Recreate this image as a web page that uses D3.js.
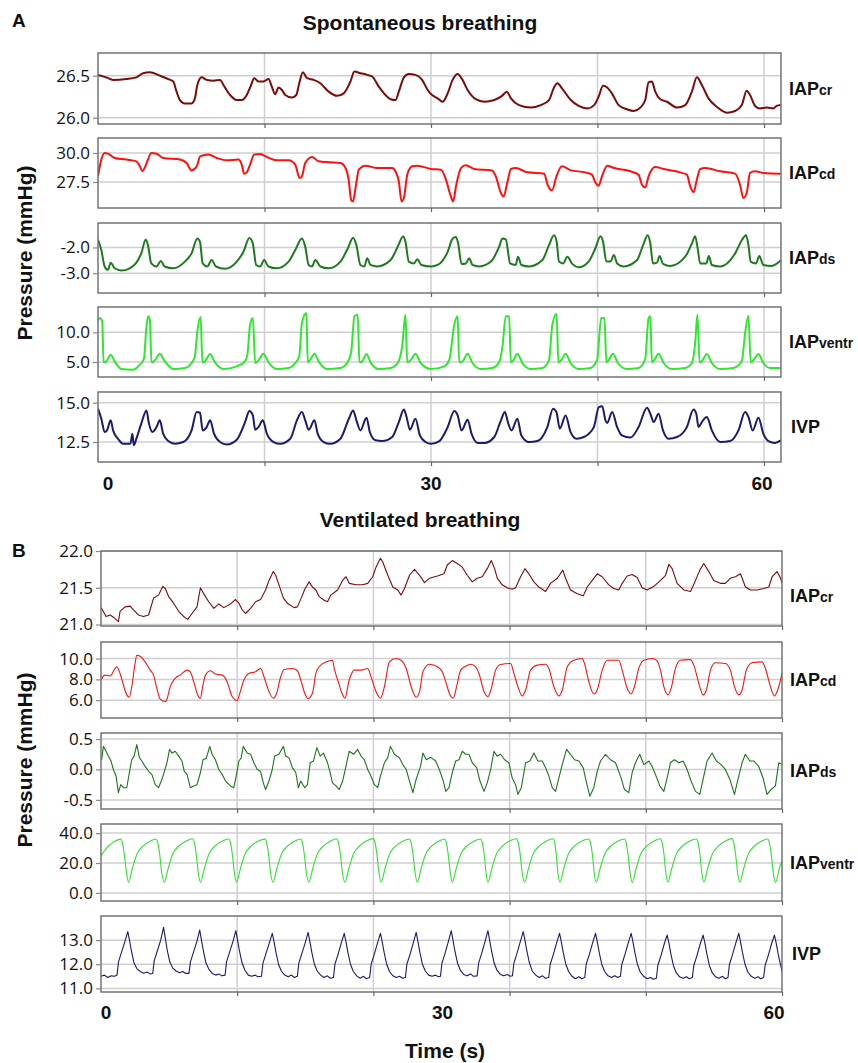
<!DOCTYPE html>
<html><head><meta charset="utf-8">
<script src="https://cdn.jsdelivr.net/npm/d3@7"></script>
<style>body{margin:0;background:#fff;}</style>
</head><body>
<script>
// ---------------- DATA (time s, pressure mmHg) ----------------
const xLabels = [0, 30, 60];

// A: Spontaneous breathing
const aCr = [[0,26.51],[0.75,26.48],[1.36,26.45],[2.56,26.46],[3.46,26.48],[4.07,26.53],[4.67,26.54],[5.57,26.50],[6.33,26.46],[6.78,26.43],[7.08,26.31],[7.38,26.21],[7.83,26.17],[8.43,26.17],[8.73,26.23],[8.95,26.39],[9.34,26.48],[9.79,26.45],[10.4,26.44],[11.0,26.45],[11.3,26.39],[11.9,26.27],[12.5,26.21],[12.95,26.21],[13.4,26.27],[13.77,26.38],[14.07,26.47],[14.46,26.43],[14.9,26.43],[15.36,26.46],[15.66,26.37],[15.96,26.28],[16.27,26.36],[16.57,26.33],[16.87,26.27],[17.47,26.24],[17.86,26.27],[18.13,26.41],[18.46,26.54],[18.83,26.47],[19.43,26.45],[20.03,26.41],[20.78,26.31],[21.54,26.26],[22.14,26.29],[22.74,26.43],[23.1,26.55],[23.64,26.53],[24.25,26.51],[24.7,26.49],[25.3,26.37],[25.9,26.27],[26.36,26.22],[26.8,26.21],[27.1,26.31],[27.56,26.48],[28.0,26.52],[28.6,26.51],[29.2,26.45],[29.7,26.33],[30.0,26.28],[30.6,26.23],[31.05,26.19],[31.5,26.29],[31.95,26.45],[32.4,26.52],[32.84,26.45],[33.3,26.33],[34.04,26.22],[34.8,26.19],[35.7,26.21],[36.4,26.26],[36.83,26.31],[37.2,26.23],[37.93,26.15],[39.0,26.12],[39.88,26.15],[40.63,26.21],[41.08,26.36],[41.4,26.41],[41.8,26.35],[42.6,26.21],[43.3,26.14],[44.1,26.11],[44.7,26.15],[45.1,26.25],[45.5,26.38],[45.87,26.36],[46.3,26.29],[46.9,26.15],[47.66,26.10],[48.26,26.08],[48.86,26.12],[49.3,26.21],[49.6,26.42],[49.9,26.43],[50.2,26.31],[50.66,26.22],[51.26,26.19],[52.16,26.12],[52.9,26.15],[53.5,26.31],[53.95,26.48],[54.4,26.39],[55.0,26.23],[55.75,26.13],[56.65,26.06],[57.4,26.08],[58.0,26.15],[58.44,26.32],[58.74,26.27],[59.2,26.14],[59.64,26.11],[60.24,26.12],[60.84,26.11],[61.14,26.14],[61.5,26.15]];

const aCd = [[0,28.0],[0.3,29.43],[0.6,30.0],[0.9,29.94],[1.5,29.57],[2.56,29.43],[3.46,29.28],[3.77,28.85],[4.0,28.42],[4.2,28.7],[4.5,29.43],[4.8,30.0],[5.27,29.94],[5.87,29.57],[7.38,29.43],[7.98,29.14],[8.43,28.5],[8.9,28.85],[9.2,29.71],[9.94,29.86],[10.7,29.57],[11.6,29.37],[12.65,29.43],[12.95,28.99],[13.16,28.22],[13.4,28.33],[13.7,28.99],[14.07,29.86],[14.6,29.91],[15.2,29.66],[16.1,29.37],[17.17,29.37],[17.77,28.99],[18.16,27.84],[18.37,27.99],[18.67,29.14],[19.28,29.66],[19.88,29.28],[20.78,29.2],[21.84,29.14],[22.3,28.7],[22.6,27.56],[22.8,25.98],[22.98,25.83],[23.2,26.98],[23.5,28.56],[24.1,28.91],[25.15,28.7],[26.5,28.7],[26.8,28.42],[27.1,27.56],[27.35,25.83],[27.56,26.12],[27.86,28.13],[28.3,28.85],[28.77,28.91],[30.0,28.62],[30.9,28.56],[31.35,27.7],[31.74,26.41],[32.0,25.83],[32.25,27.13],[32.7,28.7],[33.14,28.94],[33.9,28.62],[35.5,28.5],[35.84,27.99],[36.3,26.55],[36.53,26.26],[36.9,27.56],[37.2,28.62],[37.63,28.7],[38.7,28.33],[40.2,28.22],[40.5,27.27],[40.9,26.78],[41.3,27.99],[41.8,28.85],[42.6,28.5],[43.9,28.33],[44.5,28.13],[44.8,27.47],[45.1,27.18],[45.4,27.99],[45.87,28.91],[46.5,28.7],[47.96,28.42],[48.7,28.13],[49.0,27.27],[49.3,27.04],[49.6,27.99],[50.2,28.79],[50.96,28.62],[52.45,28.33],[53.05,28.13],[53.35,27.13],[53.65,26.61],[53.95,27.7],[54.25,28.62],[54.7,28.7],[56.05,28.42],[57.4,28.22],[57.84,27.27],[58.14,26.12],[58.44,26.55],[58.74,28.28],[59.2,28.42],[59.94,28.28],[61.5,28.22]];

const aDs = [[0,-1.7],[0.3,-2.1],[0.6,-2.74],[0.9,-2.87],[1.14,-2.59],[1.5,-2.81],[2.1,-2.9],[2.86,-2.81],[3.46,-2.59],[3.9,-2.23],[4.3,-1.69],[4.5,-1.91],[4.8,-2.62],[5.27,-2.74],[5.66,-2.53],[6.0,-2.74],[6.78,-2.81],[7.83,-2.55],[8.43,-2.23],[8.95,-1.65],[9.19,-1.78],[9.43,-2.62],[9.85,-2.74],[10.24,-2.49],[10.63,-2.74],[11.45,-2.83],[12.5,-2.55],[13.1,-2.17],[13.64,-1.63],[13.95,-1.85],[14.25,-2.68],[14.6,-2.74],[14.97,-2.49],[15.36,-2.74],[16.1,-2.81],[17.17,-2.55],[17.77,-2.1],[18.37,-1.65],[18.67,-1.97],[18.98,-2.68],[19.28,-2.74],[19.58,-2.49],[20.03,-2.74],[20.78,-2.81],[21.84,-2.55],[22.5,-2.04],[22.98,-1.62],[23.28,-1.91],[23.64,-2.68],[24.0,-2.74],[24.25,-2.42],[24.55,-2.68],[25.15,-2.74],[26.36,-2.49],[27.0,-1.97],[27.5,-1.56],[27.7,-1.78],[28.0,-2.55],[28.46,-2.62],[28.77,-2.46],[29.13,-2.68],[30.0,-2.74],[30.6,-2.68],[31.5,-2.17],[31.95,-1.65],[32.25,-1.59],[32.45,-1.85],[32.75,-2.64],[33.14,-2.62],[33.44,-2.42],[33.74,-2.68],[34.34,-2.74],[35.4,-2.55],[36.14,-1.97],[36.44,-1.65],[36.74,-1.69],[37.13,-2.62],[37.63,-2.68],[37.84,-2.36],[38.14,-2.68],[38.83,-2.74],[40.03,-2.49],[40.63,-1.91],[41.08,-1.53],[41.32,-1.78],[41.53,-2.55],[41.9,-2.62],[42.28,-2.36],[42.72,-2.64],[43.3,-2.77],[44.2,-2.55],[44.8,-2.04],[45.27,-1.56],[45.5,-1.78],[45.8,-2.55],[46.17,-2.55],[46.47,-2.29],[46.77,-2.62],[47.37,-2.74],[48.56,-2.49],[49.16,-1.85],[49.52,-1.53],[49.76,-1.85],[50.0,-2.62],[50.36,-2.59],[50.6,-2.33],[50.9,-2.64],[51.56,-2.72],[52.9,-2.36],[53.5,-1.85],[53.8,-1.56],[54.0,-1.97],[54.25,-2.62],[54.8,-2.62],[55.03,-2.33],[55.3,-2.68],[56.05,-2.74],[57.4,-2.23],[58.0,-1.72],[58.38,-1.53],[58.6,-1.91],[58.8,-2.55],[59.28,-2.62],[59.58,-2.33],[59.94,-2.68],[60.7,-2.72],[61.5,-2.51]];

const aVentr = [[0,12.0],[0.2,12.4],[0.38,11.85],[0.5,4.94],[0.75,5.11],[1.14,6.24],[1.5,5.11],[2.1,3.82],[3.16,3.71],[3.77,4.55],[4.13,5.51],[4.37,11.0],[4.52,12.7],[4.67,12.1],[4.82,4.94],[5.12,5.28],[5.57,6.4],[6.02,5.11],[6.78,3.82],[7.83,3.99],[8.43,4.83],[8.73,5.96],[8.95,10.17],[9.25,12.58],[9.4,4.94],[9.64,5.11],[10.1,6.35],[10.54,4.94],[11.3,3.82],[12.5,4.27],[13.25,5.11],[13.46,6.24],[13.7,11.29],[13.95,12.4],[14.16,4.83],[14.46,5.28],[14.9,6.4],[15.36,4.94],[16.1,3.82],[17.17,3.99],[17.77,4.83],[18.13,5.96],[18.37,11.57],[18.77,13.26],[18.9,4.94],[19.13,5.39],[19.5,6.4],[19.88,5.11],[20.63,3.82],[21.84,3.99],[22.44,4.83],[22.8,6.52],[23.1,12.7],[23.4,12.98],[23.55,4.94],[23.8,5.11],[24.2,6.35],[24.55,4.94],[25.3,3.82],[26.36,3.99],[27.0,4.83],[27.4,7.64],[27.7,12.98],[27.86,4.94],[28.16,5.28],[28.6,6.4],[29.07,4.83],[30.0,3.82],[31.2,4.27],[31.65,5.39],[32.1,11.29],[32.4,12.7],[32.54,4.94],[32.84,5.11],[33.3,6.4],[33.74,4.83],[34.5,3.82],[35.54,3.99],[36.14,4.94],[36.44,7.64],[36.74,12.7],[37.04,12.7],[37.19,4.94],[37.43,5.28],[37.78,6.4],[38.23,4.83],[38.98,3.82],[40.03,3.99],[40.63,5.28],[40.93,11.29],[41.32,13.15],[41.47,4.94],[41.77,5.39],[42.13,6.4],[42.57,4.83],[43.32,3.82],[44.37,3.99],[44.97,5.39],[45.33,12.4],[45.63,12.4],[45.8,4.94],[46.0,5.28],[46.4,6.4],[46.83,4.83],[47.66,3.82],[48.7,3.99],[49.3,5.51],[49.6,12.4],[49.76,12.7],[49.9,4.94],[50.1,5.28],[50.5,6.4],[50.96,4.83],[51.7,3.82],[52.9,3.99],[53.5,4.83],[53.8,8.2],[54.0,12.98],[54.2,4.94],[54.4,5.11],[54.85,6.35],[55.3,4.83],[56.05,3.82],[57.25,3.99],[58.0,5.11],[58.3,9.89],[58.6,12.8],[58.8,4.94],[59.04,5.28],[59.5,6.35],[59.94,4.83],[60.54,3.99],[61.5,3.99]];

const aIvp = [[0,14.62],[0.3,13.98],[0.6,13.14],[0.81,13.24],[1.14,13.88],[1.36,13.24],[1.8,12.71],[2.26,12.39],[2.92,12.39],[3.1,13.03],[3.22,12.29],[3.46,12.71],[3.9,13.67],[4.37,14.51],[4.58,13.71],[4.91,13.14],[5.27,13.45],[5.57,13.88],[5.87,13.03],[6.33,12.56],[6.93,12.39],[7.68,12.5],[8.43,13.24],[8.89,14.41],[9.19,14.36],[9.43,13.24],[9.79,13.45],[10.1,13.88],[10.45,13.03],[11.0,12.5],[11.6,12.35],[12.5,12.65],[13.25,13.77],[13.64,14.47],[13.95,14.19],[14.16,13.28],[14.46,13.45],[14.85,13.88],[15.21,13.03],[15.81,12.5],[16.42,12.39],[17.32,12.71],[17.92,13.88],[18.37,14.41],[18.67,13.88],[18.98,13.28],[19.5,13.88],[19.79,13.03],[20.33,12.5],[20.93,12.39],[21.84,12.71],[22.6,13.98],[22.98,14.51],[23.28,13.88],[23.64,13.24],[24.19,14.05],[24.49,13.14],[25.0,12.61],[25.6,12.56],[26.5,12.82],[27.1,13.77],[27.56,14.56],[27.8,14.09],[28.1,13.28],[28.6,13.98],[29.0,12.92],[29.5,12.5],[30.0,12.39],[30.75,12.56],[31.5,13.45],[32.1,14.47],[32.4,14.19],[32.75,13.24],[33.3,13.92],[33.65,13.03],[34.2,12.44],[34.8,12.44],[35.7,12.82],[36.3,13.88],[36.65,14.41],[36.95,13.71],[37.25,13.24],[37.78,13.98],[38.14,12.92],[38.83,12.5],[39.58,12.56],[40.48,13.45],[41.0,14.62],[41.3,14.41],[41.6,13.35],[42.13,14.19],[42.57,13.14],[43.1,12.71],[43.77,12.82],[44.67,13.45],[45.12,14.72],[45.42,14.77],[45.72,13.88],[45.87,13.71],[46.32,14.41],[46.77,13.45],[47.2,12.92],[47.96,12.78],[48.7,13.45],[49.46,14.68],[49.76,14.3],[50.06,13.77],[50.5,14.3],[50.9,13.24],[51.4,12.71],[52.16,12.82],[53.05,13.45],[53.65,14.56],[53.9,14.3],[54.1,13.45],[54.4,13.77],[54.85,14.09],[55.3,13.24],[56.05,12.5],[56.95,12.56],[57.7,13.24],[58.3,14.41],[58.6,14.09],[58.98,13.24],[59.5,14.05],[59.94,13.03],[60.4,12.56],[61.0,12.44],[61.5,12.61]];

// B: Ventilated breathing
const bCr = [[0,21.23],[0.2,21.18],[0.44,21.11],[0.8,21.13],[1.1,21.1],[1.39,21.06],[1.53,21.04],[1.68,21.18],[2.12,21.24],[2.56,21.25],[2.86,21.2],[3.3,21.13],[3.74,21.11],[4.19,21.13],[4.63,21.36],[5.07,21.4],[5.45,21.52],[5.66,21.49],[5.96,21.38],[6.4,21.29],[6.84,21.18],[7.28,21.11],[7.64,21.07],[8.02,21.15],[8.46,21.24],[8.76,21.5],[9.05,21.42],[9.49,21.31],[9.94,21.22],[10.38,21.28],[10.82,21.23],[11.41,21.28],[11.85,21.34],[12.15,21.29],[12.44,21.2],[12.74,21.15],[13.18,21.22],[13.62,21.31],[14.06,21.34],[14.5,21.47],[14.8,21.6],[15.18,21.72],[15.39,21.67],[15.68,21.54],[16.07,21.36],[16.42,21.29],[17.01,21.23],[17.3,21.24],[17.75,21.4],[17.95,21.48],[18.34,21.58],[18.63,21.51],[18.93,21.47],[19.22,21.38],[19.66,21.33],[19.96,21.31],[20.25,21.4],[20.84,21.47],[21.29,21.6],[21.58,21.65],[21.87,21.56],[22.46,21.54],[23.05,21.54],[23.5,21.56],[23.94,21.65],[24.23,21.78],[24.62,21.9],[24.82,21.85],[25.27,21.67],[25.71,21.51],[26.15,21.47],[26.44,21.4],[26.74,21.49],[27.18,21.67],[27.62,21.75],[28.07,21.67],[28.5,21.57],[28.95,21.63],[29.64,21.66],[30.22,21.69],[30.51,21.81],[30.95,21.87],[31.39,21.83],[31.83,21.78],[32.27,21.67],[32.71,21.58],[33.15,21.63],[33.59,21.65],[34.03,21.76],[34.39,21.87],[34.68,21.76],[34.91,21.63],[35.35,21.54],[35.79,21.5],[36.23,21.48],[36.53,21.5],[36.97,21.65],[37.35,21.76],[37.7,21.69],[38.14,21.58],[38.58,21.51],[39.17,21.45],[39.61,21.56],[40.2,21.63],[40.69,21.74],[40.93,21.63],[41.37,21.47],[41.96,21.42],[42.49,21.39],[42.84,21.51],[43.28,21.6],[43.72,21.69],[44.16,21.65],[44.74,21.54],[45.18,21.49],[45.62,21.47],[45.92,21.56],[46.36,21.66],[46.8,21.68],[47.24,21.64],[47.68,21.5],[48.12,21.47],[48.71,21.52],[49.3,21.6],[49.74,21.67],[50.03,21.82],[50.32,21.76],[50.76,21.56],[51.35,21.47],[51.94,21.45],[52.38,21.6],[52.76,21.74],[53.11,21.83],[53.55,21.72],[53.99,21.6],[54.57,21.56],[55.01,21.56],[55.46,21.63],[55.9,21.65],[56.34,21.69],[56.78,21.51],[57.22,21.47],[57.81,21.47],[58.4,21.49],[58.84,21.51],[59.13,21.65],[59.57,21.72],[59.87,21.63],[60.06,21.54]];

const bCd = [[0,7.94],[0.35,8.41],[0.8,8.32],[1.24,9.05],[1.39,9.21],[1.68,8.57],[1.98,7.46],[2.27,6.51],[2.5,6.29],[2.71,7.3],[3.0,9.52],[3.15,10.32],[3.45,10.22],[3.89,9.68],[4.33,8.89],[4.63,8.41],[4.92,7.14],[5.22,6.1],[5.66,5.87],[5.81,6.1],[6.1,7.3],[6.54,8.1],[6.99,8.41],[7.58,8.89],[7.87,8.73],[8.17,7.78],[8.52,6.51],[8.76,6.19],[8.96,7.3],[9.2,8.41],[9.64,8.83],[10.08,8.51],[10.67,8.41],[11.11,7.78],[11.56,6.35],[12.0,5.97],[12.23,6.67],[12.59,7.94],[13.03,8.57],[13.62,8.73],[14.06,9.05],[14.36,8.25],[14.8,6.83],[15.18,6.19],[15.48,6.67],[15.83,8.25],[16.13,8.95],[16.86,9.05],[17.3,8.83],[17.6,7.94],[17.95,6.67],[18.25,6.16],[18.63,6.67],[18.93,8.57],[19.22,9.21],[19.81,9.68],[20.4,9.84],[20.55,9.05],[20.9,7.78],[21.29,6.51],[21.49,6.19],[21.87,7.94],[22.32,8.89],[22.91,8.89],[23.5,9.05],[23.79,8.25],[24.23,6.83],[24.62,6.19],[24.97,7.3],[25.41,9.68],[26.0,10.0],[26.44,9.84],[26.89,9.05],[27.33,7.3],[27.77,6.29],[28.07,6.83],[28.36,8.73],[28.95,9.46],[29.64,9.21],[30.07,8.73],[30.37,7.78],[30.75,6.51],[31.04,6.19],[31.33,7.3],[31.69,8.89],[32.13,9.27],[32.57,9.46],[33.01,9.21],[33.3,8.57],[33.74,6.83],[34.09,6.35],[34.39,7.14],[34.77,8.89],[35.21,9.43],[36.09,9.52],[36.38,8.57],[36.73,7.3],[37.11,6.41],[37.41,6.98],[37.85,8.89],[38.44,9.37],[39.17,9.46],[39.46,9.05],[39.9,7.3],[40.34,6.41],[40.64,6.98],[41.08,9.21],[41.66,9.84],[42.4,10.0],[42.6,9.52],[42.98,7.78],[43.42,6.6],[43.72,6.98],[44.16,8.89],[44.6,9.84],[45.62,9.84],[45.92,8.89],[46.36,7.14],[46.71,6.6],[47.0,7.3],[47.38,9.05],[47.83,9.84],[48.56,10.0],[49.0,9.78],[49.29,8.89],[49.59,7.3],[49.94,6.51],[50.23,7.14],[50.61,9.05],[51.05,9.84],[51.93,9.9],[52.23,9.37],[52.67,7.62],[53.05,6.51],[53.34,6.98],[53.7,8.89],[54.13,9.59],[55.01,9.52],[55.45,8.89],[55.81,7.3],[56.19,6.51],[56.48,6.98],[56.86,8.89],[57.36,9.59],[58.24,9.68],[58.54,9.05],[58.98,7.3],[59.33,6.41],[59.62,6.98],[60.06,8.83]];

const bDs = [[0.06,0.16],[0.21,0.38],[0.44,0.3],[0.65,0.22],[0.88,0.14],[1.09,0.0],[1.33,-0.11],[1.53,-0.38],[1.74,-0.25],[1.98,-0.3],[2.27,-0.3],[2.5,-0.05],[2.71,0.16],[2.92,0.22],[3.15,0.41],[3.39,0.19],[3.6,0.14],[3.89,0.05],[4.19,-0.03],[4.48,-0.08],[4.78,-0.25],[5.07,-0.3],[5.31,-0.19],[5.51,-0.08],[5.81,0.11],[6.04,0.33],[6.25,0.27],[6.54,0.3],[6.84,0.22],[7.13,0.14],[7.34,-0.03],[7.58,-0.08],[7.87,-0.3],[8.17,-0.27],[8.46,-0.25],[8.76,-0.05],[8.99,0.16],[9.29,0.19],[9.58,0.38],[9.79,0.25],[10.08,0.16],[10.38,0.0],[10.67,-0.08],[10.97,-0.19],[11.41,-0.27],[11.7,-0.3],[11.94,-0.08],[12.15,0.14],[12.35,0.19],[12.53,0.38],[12.88,0.27],[13.18,0.25],[13.47,0.11],[13.77,0.0],[14.06,-0.03],[14.3,-0.22],[14.5,-0.33],[14.8,-0.19],[15.09,0.0],[15.3,0.22],[15.68,0.25],[16.07,0.38],[16.27,0.22],[16.57,0.19],[16.86,0.03],[17.16,-0.05],[17.39,-0.3],[17.6,-0.19],[17.95,-0.3],[18.19,-0.25],[18.43,0.11],[18.72,0.14],[19.02,0.36],[19.31,0.22],[19.6,0.27],[19.96,0.11],[20.19,-0.05],[20.4,-0.22],[20.7,-0.27],[20.99,-0.33],[21.29,-0.19],[21.58,0.05],[21.87,0.3],[22.26,0.25],[22.61,0.33],[22.91,0.22],[23.2,0.16],[23.5,0.0],[23.79,-0.11],[24.09,-0.25],[24.38,-0.3],[24.62,-0.11],[24.97,0.11],[25.26,0.19],[25.5,0.38],[25.85,0.25],[26.3,0.19],[26.59,0.08],[26.89,0.0],[27.18,-0.19],[27.48,-0.38],[27.77,-0.16],[28.15,0.05],[28.36,0.27],[28.66,0.16],[29.05,0.2],[29.49,0.14],[29.87,-0.03],[30.16,-0.19],[30.37,-0.36],[30.66,-0.3],[30.95,-0.05],[31.25,0.14],[31.54,0.16],[31.83,0.3],[32.13,0.25],[32.42,0.25],[32.71,0.11],[33.1,0.03],[33.39,-0.19],[33.74,-0.36],[34.03,-0.22],[34.33,0.0],[34.62,0.3],[34.91,0.22],[35.21,0.25],[35.56,0.16],[35.94,0.11],[36.23,-0.14],[36.53,-0.25],[36.73,-0.41],[37.03,-0.3],[37.41,0.11],[37.79,0.14],[38.14,0.27],[38.49,0.14],[38.88,0.14],[39.17,0.03],[39.46,-0.11],[39.76,-0.3],[40.05,-0.36],[40.34,-0.14],[40.64,0.08],[41.02,0.33],[41.37,0.25],[41.72,0.16],[42.1,0.14],[42.48,0.03],[42.78,-0.22],[43.07,-0.44],[43.42,-0.3],[43.72,-0.03],[44.01,0.14],[44.45,0.25],[44.89,0.16],[45.33,0.11],[45.77,-0.11],[46.12,-0.33],[46.5,-0.38],[46.8,-0.05],[47.09,0.11],[47.47,0.25],[47.83,0.08],[48.27,0.14],[48.56,0.05],[48.85,-0.08],[49.23,-0.27],[49.59,-0.36],[49.88,-0.14],[50.17,0.11],[50.52,0.16],[50.91,0.11],[51.29,0.14],[51.64,0.0],[51.99,-0.19],[52.38,-0.36],[52.76,-0.41],[53.05,-0.16],[53.4,0.14],[53.84,0.27],[54.22,0.14],[54.63,0.08],[55.01,0.0],[55.4,-0.16],[55.81,-0.41],[56.19,-0.11],[56.48,0.11],[56.77,0.25],[57.16,0.14],[57.51,0.14],[57.95,0.05],[58.33,-0.14],[58.68,-0.41],[59.04,-0.33],[59.42,-0.27],[59.71,0.11],[60.06,0.08]];

const bVentr = [[0,24.7],[0.5,30.2],[1.1,34.0],[1.74,36.0],[1.86,34.3],[2.04,26.5],[2.22,15.3],[2.42,7.2],
[2.77,16.5],[3.17,26.0],[3.72,31.5],[4.32,34.6],[4.86,36.1],[4.98,34.4],[5.16,26.5],[5.36,13.0],[5.57,7.2],
[5.92,16.5],[6.32,26.0],[6.87,31.5],[7.47,34.6],[8.08,36.2],[8.2,34.4],[8.38,26.5],[8.58,13.0],[8.76,7.2],
[9.11,16.5],[9.51,26.0],[10.06,31.5],[10.66,34.6],[11.26,36.1],[11.38,34.4],[11.56,26.5],[11.76,13.0],[11.94,7.3],
[12.29,16.5],[12.69,26.0],[13.24,31.5],[13.84,34.6],[14.45,36.0],[14.57,34.4],[14.75,26.5],[14.95,13.0],[15.15,7.2],
[15.5,16.5],[15.9,26.0],[16.45,31.5],[17.05,34.6],[17.6,36.1],[17.72,34.4],[17.9,26.5],[18.1,13.0],[18.31,7.2],
[18.66,16.5],[19.06,26.0],[19.61,31.5],[20.21,34.6],[20.78,36.2],[20.9,34.4],[21.08,26.5],[21.28,13.0],[21.49,7.2],
[21.84,16.5],[22.24,26.0],[22.79,31.5],[23.39,34.7],[24.0,36.3],[24.12,34.4],[24.3,26.5],[24.5,13.0],[24.68,7.2],
[25.03,16.5],[25.43,26.0],[25.98,31.5],[26.58,34.6],[27.18,36.1],[27.3,34.4],[27.48,26.5],[27.68,13.0],[27.86,7.2],
[28.21,16.5],[28.61,26.0],[29.16,31.5],[29.76,34.6],[30.28,36.1],[30.4,34.4],[30.58,26.5],[30.78,13.0],[30.95,7.2],
[31.3,16.5],[31.7,26.0],[32.25,31.5],[32.85,34.6],[33.45,36.1],[33.57,34.4],[33.75,26.5],[33.93,13.0],[34.09,7.1],
[34.44,16.5],[34.84,26.0],[35.39,31.5],[35.99,34.7],[36.62,36.2],[36.74,34.4],[36.92,26.5],[37.12,13.0],[37.32,7.2],
[37.67,16.5],[38.07,26.0],[38.62,31.5],[39.22,34.6],[39.84,36.2],[39.96,34.4],[40.1,26.5],[40.26,13.0],[40.43,7.2],
[40.78,16.5],[41.18,26.0],[41.73,31.5],[42.33,34.6],[42.98,36.1],[43.1,34.4],[43.28,26.5],[43.46,13.0],[43.63,7.2],
[43.98,16.5],[44.38,26.0],[44.93,31.5],[45.53,34.6],[46.12,36.1],[46.24,34.4],[46.42,26.5],[46.62,13.0],[46.8,7.0],
[47.15,16.5],[47.55,26.0],[48.1,31.5],[48.7,34.6],[49.29,36.2],[49.41,34.4],[49.59,26.5],[49.77,13.0],[49.94,7.2],
[50.29,16.5],[50.69,26.0],[51.24,31.5],[51.84,34.6],[52.46,36.1],[52.58,34.4],[52.76,26.5],[52.94,13.0],[53.11,7.2],
[53.46,16.5],[53.86,26.0],[54.41,31.5],[55.01,34.7],[55.6,36.3],[55.72,34.4],[55.9,26.5],[56.1,13.0],[56.28,7.2],
[56.63,16.5],[57.03,26.0],[57.58,31.5],[58.18,34.6],[58.74,36.1],[58.86,34.4],[59.04,26.5],[59.24,13.0],[59.42,7.0],
[59.77,16.5],[60.06,22.5]];

const bIvp = [[0,11.5],[0.3,11.55],[0.6,11.45],[0.9,11.52],[1.2,11.5],[1.41,11.55],
[1.54,12.1],[1.81,12.5],[2.11,12.95],[2.36,13.35],[2.51,13.0],[2.68,12.55],[2.91,12.05],[3.16,11.82],[3.46,11.7],[3.76,11.63],[4.06,11.68],[4.31,11.6],[4.56,11.62],
[4.69,12.15],[4.96,12.55],[5.26,13.0],[5.51,13.53],[5.66,13.1],[5.83,12.6],[6.06,12.1],[6.31,11.85],[6.61,11.72],[6.91,11.65],[7.21,11.7],[7.46,11.62],[7.75,11.62],
[7.88,12.1],[8.15,12.5],[8.45,12.95],[8.7,13.42],[8.85,13.0],[9.02,12.55],[9.25,12.05],[9.5,11.8],[9.8,11.62],[10.1,11.55],[10.4,11.6],[10.65,11.52],[10.93,11.55],
[11.06,12.1],[11.33,12.5],[11.63,12.95],[11.88,13.39],[12.03,13.0],[12.2,12.55],[12.43,12.05],[12.68,11.75],[12.98,11.55],[13.28,11.5],[13.58,11.55],[13.83,11.48],[14.14,11.5],
[14.27,12.05],[14.54,12.45],[14.84,12.9],[15.09,13.28],[15.24,12.95],[15.41,12.5],[15.64,12.0],[15.89,11.72],[16.19,11.55],[16.49,11.48],[16.79,11.55],[17.04,11.45],[17.3,11.5],
[17.43,12.05],[17.7,12.45],[18.0,12.9],[18.25,13.32],[18.4,12.95],[18.57,12.5],[18.8,12.0],[19.05,11.72],[19.35,11.55],[19.65,11.45],[19.95,11.52],[20.2,11.42],[20.48,11.45],
[20.61,12.0],[20.88,12.4],[21.18,12.9],[21.43,13.28],[21.58,12.95],[21.75,12.5],[21.98,12.0],[22.23,11.7],[22.53,11.52],[22.83,11.42],[23.13,11.5],[23.38,11.4],[23.67,11.45],
[23.8,12.0],[24.07,12.4],[24.37,12.9],[24.62,13.28],[24.77,12.95],[24.94,12.5],[25.17,12.0],[25.42,11.7],[25.72,11.52],[26.02,11.45],[26.32,11.5],[26.57,11.42],[26.82,11.45],
[26.95,12.0],[27.22,12.4],[27.52,12.9],[27.77,13.32],[27.92,12.95],[28.09,12.5],[28.32,12.0],[28.57,11.72],[28.87,11.55],[29.17,11.5],[29.47,11.55],[29.72,11.48],[29.91,11.5],
[30.04,12.05],[30.31,12.45],[30.61,12.95],[30.86,13.39],[31.01,13.0],[31.18,12.55],[31.41,12.05],[31.66,11.75],[31.96,11.58],[32.26,11.52],[32.56,11.6],[32.81,11.5],[33.14,11.52],
[33.27,12.05],[33.54,12.45],[33.84,12.95],[34.09,13.39],[34.24,13.0],[34.41,12.55],[34.64,12.05],[34.89,11.75],[35.19,11.58],[35.49,11.52],[35.79,11.58],[36.04,11.5],[36.25,11.52],
[36.38,12.05],[36.65,12.45],[36.95,12.95],[37.2,13.35],[37.35,13.0],[37.52,12.55],[37.75,12.05],[38.0,11.72],[38.3,11.55],[38.6,11.45],[38.9,11.52],[39.15,11.42],[39.45,11.45],
[39.58,12.0],[39.85,12.4],[40.15,12.9],[40.4,13.28],[40.55,12.95],[40.72,12.5],[40.95,12.0],[41.2,11.7],[41.5,11.5],[41.8,11.4],[42.1,11.48],[42.35,11.4],[42.62,11.45],
[42.75,12.0],[43.02,12.4],[43.32,12.9],[43.57,13.28],[43.72,12.95],[43.89,12.5],[44.12,12.0],[44.37,11.7],[44.67,11.52],[44.97,11.45],[45.27,11.52],[45.52,11.45],[45.76,11.5],
[45.89,12.0],[46.16,12.4],[46.46,12.9],[46.71,13.28],[46.86,12.95],[47.03,12.5],[47.26,12.0],[47.51,11.68],[47.81,11.5],[48.11,11.4],[48.41,11.45],[48.66,11.38],[48.93,11.42],
[49.06,11.95],[49.33,12.35],[49.63,12.85],[49.88,13.21],[50.03,12.9],[50.2,12.45],[50.43,11.95],[50.68,11.65],[50.98,11.48],[51.28,11.42],[51.58,11.48],[51.83,11.4],[52.1,11.45],
[52.23,11.95],[52.5,12.35],[52.8,12.85],[53.05,13.21],[53.2,12.9],[53.37,12.45],[53.6,11.95],[53.85,11.65],[54.15,11.48],[54.45,11.42],[54.75,11.5],[55.0,11.4],[55.24,11.45],
[55.37,12.0],[55.64,12.4],[55.94,12.9],[56.19,13.28],[56.34,12.95],[56.51,12.5],[56.74,12.0],[56.99,11.68],[57.29,11.5],[57.59,11.42],[57.89,11.48],[58.14,11.4],[58.38,11.45],
[58.51,11.95],[58.78,12.35],[59.08,12.85],[59.33,13.21],[59.48,12.9],[59.65,12.45],[59.88,11.95],[60.06,11.6]];

// tick values per panel
const aCrTicks = [26.0, 26.5], aCdTicks = [27.5, 30.0], aDsTicks = [-3.0, -2.0], aVentrTicks = [5.0, 10.0], aIvpTicks = [12.5, 15.0];
const bCrTicks = [21.0, 21.5, 22.0], bCdTicks = [6.0, 8.0, 10.0], bDsTicks = [-0.5, 0.0, 0.5], bVentrTicks = [0.0, 20.0, 40.0], bIvpTicks = [11.0, 12.0, 13.0];
const aGrid = [15, 30, 45, 60], bGrid = [12, 24, 36, 48, 60];

// ---------------- LAYOUT ----------------
const W = 858, H = 1063;
const BOLD = "'Liberation Sans', Arial, Helvetica, sans-serif";
const TICKF = "'Open Sans', 'Noto Sans', sans-serif";
const svg = d3.select("body").append("svg").attr("width", W).attr("height", H).style("background", "#fff");

const xA = d3.scaleLinear().domain([0, 60]).range([98, 764]);
const xB = d3.scaleLinear().domain([0, 60]).range([101, 782]);

const panelsA = [
  {data: aCr, ticks: aCrTicks, domain: [25.925, 26.77], top: 53, bottom: 124, color: "#7b0a0a", name: "IAP", sub: "cr", smooth: true},
  {data: aCd, ticks: aCdTicks, domain: [25.26, 31.29], top: 138, bottom: 208, color: "#ff1010", name: "IAP", sub: "cd", smooth: true},
  {data: aDs, ticks: aDsTicks, domain: [-3.77, -1.05], top: 223, bottom: 293, color: "#1f7a1f", name: "IAP", sub: "ds", smooth: true},
  {data: aVentr, ticks: aVentrTicks, domain: [2.47, 14.27], top: 307, bottom: 377, color: "#2ee82e", name: "IAP", sub: "ventr", smooth: true},
  {data: aIvp, ticks: aIvpTicks, domain: [11.23, 15.68], top: 392, bottom: 462, color: "#1b1b6e", name: "IVP", sub: "", smooth: true}
];
const panelsB = [
  {data: bCr, ticks: bCrTicks, domain: [20.98, 22.0], top: 551, bottom: 626, color: "#7b0a0a", name: "IAP", sub: "cr", dy: 7},
  {data: bCd, ticks: bCdTicks, domain: [4.29, 11.59], top: 642, bottom: 718, color: "#f51515", name: "IAP", sub: "cd", smooth: true},
  {data: bDs, ticks: bDsTicks, domain: [-0.65, 0.6], top: 733, bottom: 809, color: "#1f731f", name: "IAP", sub: "ds"},
  {data: bVentr, ticks: bVentrTicks, domain: [-5.4, 46.1], top: 824, bottom: 901, color: "#33e033", name: "IAP", sub: "ventr", smooth: true},
  {data: bIvp, ticks: bIvpTicks, domain: [10.85, 14.0], top: 916, bottom: 992, color: "#1b1b6a", name: "IVP", sub: ""}
];

let clipId = 0;
function drawPanel(p, x, left, right, grid, lw) {
  const y = d3.scaleLinear().domain(p.domain).range([p.bottom, p.top]);
  const g = svg.append("g");
  g.selectAll(null).data(p.ticks).join("line")
    .attr("x1", left).attr("x2", right).attr("y1", d => y(d)).attr("y2", d => y(d))
    .attr("stroke", "#cfcfcf").attr("stroke-width", 1.5);
  g.selectAll(null).data(grid.filter(d => x(d) < right - 1)).join("line")
    .attr("x1", d => x(d)).attr("x2", d => x(d)).attr("y1", p.top).attr("y2", p.bottom)
    .attr("stroke", "#cfcfcf").attr("stroke-width", 1.5);
  const id = "clip" + (clipId++);
  svg.append("clipPath").attr("id", id).append("rect")
    .attr("x", left).attr("y", p.top).attr("width", right - left).attr("height", p.bottom - p.top);
  const line = d3.line().x(d => x(d[0])).y(d => y(d[1]))
    .curve(p.smooth ? d3.curveMonotoneX : d3.curveLinear);
  g.append("path").datum(p.data).attr("d", line).attr("fill", "none")
    .attr("stroke", p.color).attr("stroke-width", lw).attr("stroke-linejoin", "round")
    .attr("clip-path", `url(#${id})`);
  g.append("rect").attr("x", left).attr("y", p.top).attr("width", right - left).attr("height", p.bottom - p.top)
    .attr("fill", "none").attr("stroke", "#6a6a6a").attr("stroke-width", 1.4);
  const ay = g.append("g").attr("transform", `translate(${left},0)`)
    .call(d3.axisLeft(y).tickValues(p.ticks).tickSize(5).tickPadding(3).tickFormat(d => d.toFixed(1)));
  ay.select(".domain").remove();
  ay.selectAll("line").attr("stroke", "#888").attr("stroke-width", 1.2);
  ay.selectAll("text").attr("font-family", TICKF).attr("font-size", 17).attr("fill", "#111");
  const ax = g.append("g").attr("transform", `translate(0,${p.bottom})`)
    .call(d3.axisBottom(x).tickValues(grid).tickSize(4).tickFormat(""));
  ax.select(".domain").remove();
  ax.selectAll("line").attr("stroke", "#666").attr("stroke-width", 1.2);
  const cy = (p.top + p.bottom) / 2 + 6 + (p.dy || 0);
  const t = svg.append("text").attr("x", right + (p.sub ? 8 : 10)).attr("y", cy)
    .attr("font-family", BOLD).attr("font-weight", "bold").attr("fill", "#111");
  t.append("tspan").attr("font-size", 18).text(p.name);
  if (p.sub) t.append("tspan").attr("font-size", 14).text(p.sub);
}

const rightA = xA(61.53);
panelsA.forEach(p => drawPanel(p, xA, xA(0), rightA, aGrid, 2));
panelsB.forEach(p => drawPanel(p, xB, xB(0), xB(60), bGrid, 1.1));

function bold(xp, yp, txt, size, anchor) {
  return svg.append("text").attr("x", xp).attr("y", yp).attr("font-family", BOLD).attr("font-weight", "bold")
    .attr("font-size", size).attr("text-anchor", anchor || "start").attr("fill", "#111").text(txt);
}
bold(12, 27, "A", 19);
bold(12, 557, "B", 19);
bold(420, 29.5, "Spontaneous breathing", 21, "middle");
bold(420, 526.5, "Ventilated breathing", 21, "middle");

const dxA = [10, 0, -2], dxB = [5, 1, -8];
xLabels.forEach((v, i) => {
  bold(xA(v) + dxA[i], 490, String(v), 19, "middle");
  bold(xB(v) + dxB[i], 1019, String(v), 19, "middle");
});
bold(445, 1058, "Time (s)", 21, "middle");

svg.append("text").attr("transform", "translate(32,253) rotate(-90)").attr("text-anchor", "middle")
  .attr("font-family", BOLD).attr("font-weight", "bold").attr("font-size", 21).attr("fill", "#111").text("Pressure (mmHg)");
svg.append("text").attr("transform", "translate(32,760) rotate(-90)").attr("text-anchor", "middle")
  .attr("font-family", BOLD).attr("font-weight", "bold").attr("font-size", 21).attr("fill", "#111").text("Pressure (mmHg)");
</script>
</body></html>
